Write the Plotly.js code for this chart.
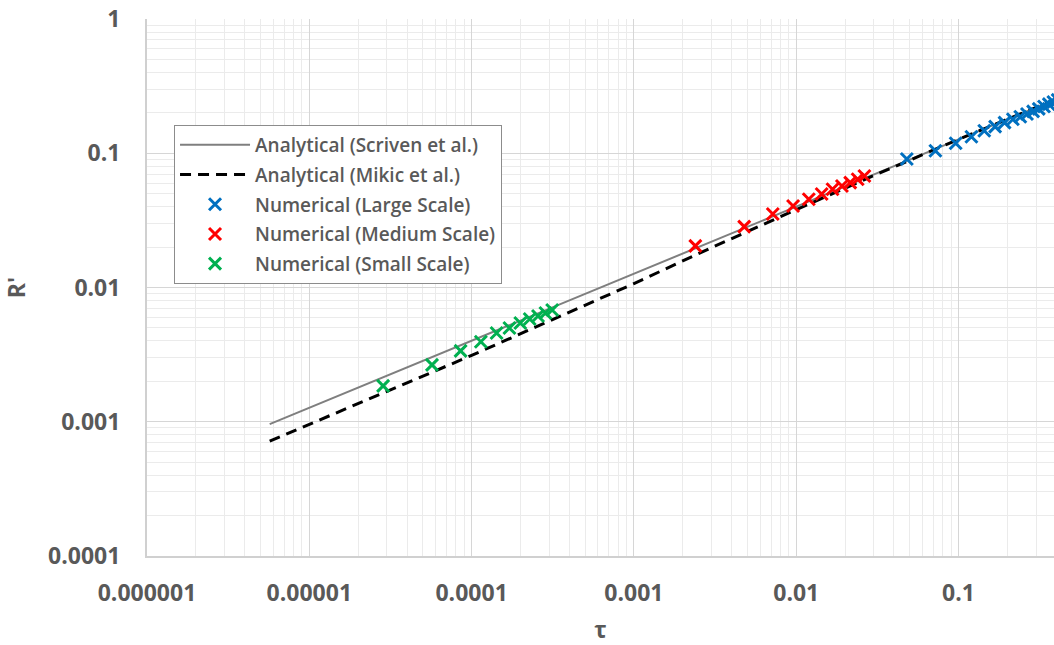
<!DOCTYPE html>
<html>
<head>
<meta charset="utf-8">
<script src="https://cdn.plot.ly/plotly-3.0.1.min.js"></script>
<style>html,body{margin:0;padding:0;background:#fff;}#chart{width:1054px;height:645px;}</style>
</head>
<body>
<div id="chart"></div>
<script>
// Analytical (Scriven et al.)
const scrivenTau = [5.7e-6, 1e-5, 1e-4, 1e-3, 1e-2, 0.1, 0.45];
const scrivenR   = [9.6e-4, 1.27e-3, 4.0e-3, 0.0127, 0.040, 0.127, 0.268];
// Analytical (Mikic et al.)
const mikicTau = [5.7e-6, 1e-5, 1e-4, 1e-3, 3e-3, 1e-2, 3e-2, 0.1, 0.45];
const mikicR   = [7.17e-4, 9.58e-4, 3.12e-3, 0.0107, 0.0198, 0.038, 0.0681, 0.127, 0.268];
// Numerical (Large Scale)
const largeTau = [0.048, 0.072, 0.096, 0.12, 0.144, 0.168, 0.192, 0.216, 0.24, 0.264, 0.288, 0.312, 0.336, 0.36, 0.384, 0.408];
const largeR   = [0.0906, 0.1044, 0.1186, 0.1327, 0.147, 0.158, 0.169, 0.179, 0.187, 0.196, 0.205, 0.214, 0.223, 0.232, 0.241, 0.250];
// Numerical (Medium Scale)
const mediumTau = [0.00239, 0.00478, 0.00717, 0.00956, 0.01195, 0.01434, 0.01673, 0.01912, 0.02151, 0.0239, 0.02629];
const mediumR   = [0.0204, 0.0284, 0.0353, 0.0405, 0.0454, 0.0497, 0.0539, 0.0570, 0.0604, 0.0640, 0.0677];
// Numerical (Small Scale)
const smallTau = [2.85e-5, 5.7e-5, 8.55e-5, 1.14e-4, 1.425e-4, 1.71e-4, 1.995e-4, 2.28e-4, 2.565e-4, 2.85e-4, 3.135e-4];
const smallR   = [1.85e-3, 2.65e-3, 3.37e-3, 3.94e-3, 4.58e-3, 4.99e-3, 5.44e-3, 5.83e-3, 6.13e-3, 6.46e-3, 6.80e-3];

const xTickVals = [1e-6, 1e-5, 1e-4, 1e-3, 1e-2, 1e-1];
const xTickText = ['0.000001', '0.00001', '0.0001', '0.001', '0.01', '0.1'];
const yTickVals = [1e-4, 1e-3, 1e-2, 1e-1, 1];
const yTickText = ['0.0001', '0.001', '0.01', '0.1', '1'];

const FONT = '"Open Sans", "Liberation Sans", sans-serif';
const TXT = '#595959';

const mk = (color) => ({symbol: 'x-thin', size: 12, line: {width: 3, color: color}, color: color});

const traces = [
  {x: scrivenTau, y: scrivenR, mode: 'lines', name: 'Analytical (Scriven et al.)', legendgroup: 'a',
   line: {color: '#7f7f7f', width: 2}},
  {x: mikicTau, y: mikicR, mode: 'lines', name: 'Analytical (Mikic et al.)', legendgroup: 'b',
   line: {color: '#000000', width: 3, dash: '11px,7px'}},
  {x: largeTau, y: largeR, mode: 'markers', name: 'Numerical (Large Scale)', legendgroup: 'c', marker: mk('#0070C0')},
  {x: mediumTau, y: mediumR, mode: 'markers', name: 'Numerical (Medium Scale)', legendgroup: 'd', marker: mk('#FF0000')},
  {x: smallTau, y: smallR, mode: 'markers', name: 'Numerical (Small Scale)', legendgroup: 'e', marker: mk('#00B050')}
];

const layout = {
  width: 1054, height: 645,
  margin: {l: 147, r: 0, t: 19, b: 89},
  paper_bgcolor: '#ffffff', plot_bgcolor: '#ffffff',
  showlegend: true,
  font: {family: FONT, color: TXT},
  legend: {
    x: 0.0298, y: 0.8026, xanchor: 'left', yanchor: 'top',
    bgcolor: '#ffffff', bordercolor: '#8c8c8c', borderwidth: 1,
    font: {family: FONT, size: 19, color: TXT, weight: 600},
    tracegroupgap: 2, itemwidth: 70
  },
  xaxis: {
    type: 'log', range: [-6, -0.412],
    tickvals: xTickVals, ticktext: xTickText,
    tickfont: {family: FONT, size: 23, color: TXT, weight: 700},
    ticks: '', ticklabelstandoff: 15,
    showgrid: true, gridcolor: '#d6d6d6', gridwidth: 1,
    minor: {showgrid: true, gridcolor: '#ebebeb', gridwidth: 1, dtick: 'D1'},
    showline: true, linecolor: '#d0d0d0', linewidth: 2,
    zeroline: false, automargin: false,
    title: {text: 'τ', font: {family: FONT, size: 23, color: TXT, weight: 700}, standoff: 28}
  },
  yaxis: {
    type: 'log', range: [-4, 0],
    tickvals: yTickVals, ticktext: yTickText,
    tickfont: {family: FONT, size: 23, color: TXT, weight: 700},
    ticks: '', ticklabelstandoff: 20,
    showgrid: true, gridcolor: '#d6d6d6', gridwidth: 1,
    minor: {showgrid: true, gridcolor: '#ebebeb', gridwidth: 1, dtick: 'D1'},
    showline: true, linecolor: '#d0d0d0', linewidth: 2,
    zeroline: false, automargin: false,
    title: {text: "R'", font: {family: FONT, size: 23, color: TXT, weight: 700}, standoff: 18}
  }
};

Plotly.newPlot('chart', traces, layout, {staticPlot: true, displayModeBar: false});
</script>
</body>
</html>
